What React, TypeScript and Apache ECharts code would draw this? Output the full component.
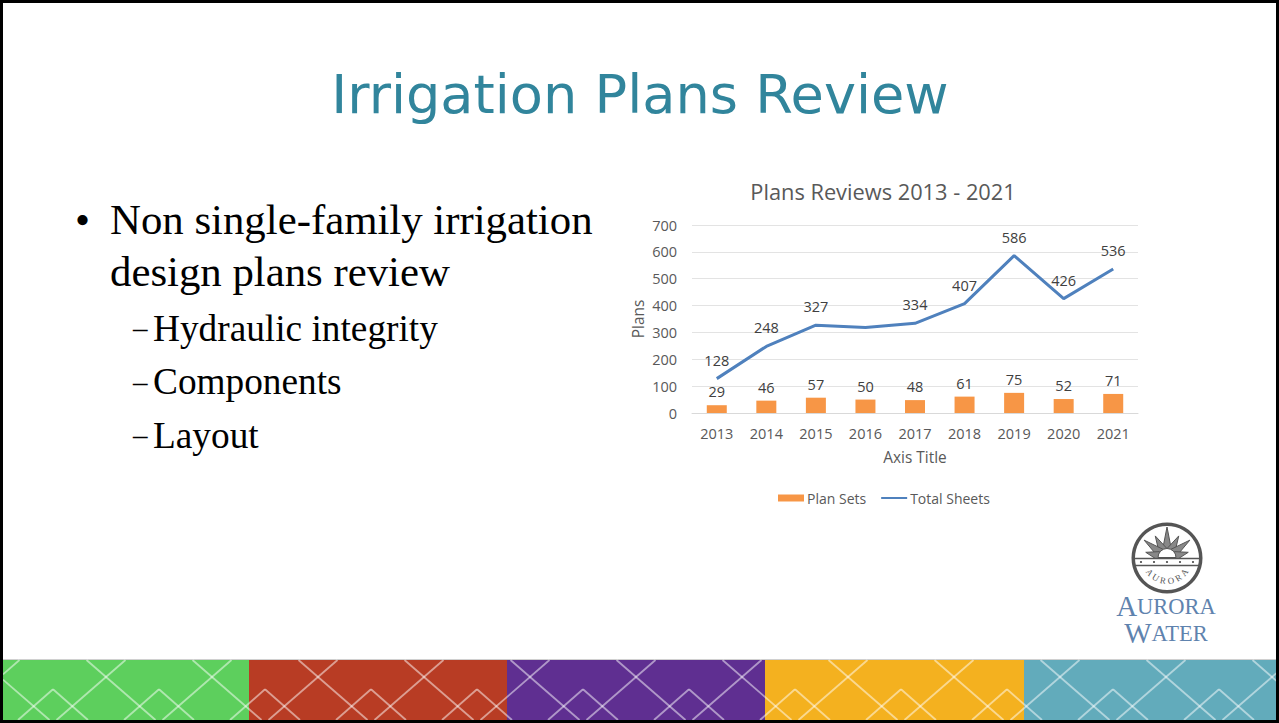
import React, { useEffect, useRef } from "react";
import * as echarts from "echarts";

const categories = ["2013", "2014", "2015", "2016", "2017", "2018", "2019", "2020", "2021"];
const planSets = [29, 46, 57, 50, 48, 61, 75, 52, 71];
const totalSheets = [128, 248, 327, 318, 334, 407, 586, 426, 536];
const unlabeledYears = ["2016"];
const bullets = ["Non single-family irrigation", "design plans review"];
const subBullets = ["Hydraulic integrity", "Components", "Layout"];
const bandColors = ["#5DCF5D", "#B83C24", "#5F2F91", "#F4B11F", "#62ABBB"];
const bandEdges = [3, 249, 507, 765, 1024, 1279];

const TEXT = "#595959";
const FONT = "'Open Sans', sans-serif";
const SERIF = "'Liberation Serif', serif";

function bandGraphics(): any[] {
  const out: any[] = [];
  bandColors.forEach((fill, i) => {
    out.push({ type: "rect", shape: { x: bandEdges[i], y: 660, width: bandEdges[i + 1] - bandEdges[i], height: 60 }, style: { fill } });
  });
  out.push({ type: "line", shape: { x1: 3, y1: 659.5, x2: 1277, y2: 659.5 }, style: { stroke: "#D0D0D0", lineWidth: 1 } });
  const style = { stroke: "rgba(255,255,255,0.5)", lineWidth: 1.8, fill: "none" };
  const clipX = (x1: number, y1: number, x2: number, y2: number) => {
    const lo = 3, hi = 1277;
    if (Math.max(x1, x2) < lo || Math.min(x1, x2) > hi) return;
    const k = (y2 - y1) / (x2 - x1);
    const a = { x1, y1, x2, y2 };
    if (a.x1 < lo) { a.y1 += (lo - a.x1) * k; a.x1 = lo; }
    if (a.x2 < lo) { a.y2 += (lo - a.x2) * k; a.x2 = lo; }
    if (a.x1 > hi) { a.y1 += (hi - a.x1) * k; a.x1 = hi; }
    if (a.x2 > hi) { a.y2 += (hi - a.x2) * k; a.x2 = hi; }
    out.push({ type: "line", shape: a, style });
  };
  for (let c = -106; c <= 1378; c += 106) {
    clipX(c - 19.5, 660, c + 49.5, 720);
    clipX(c + 19.5, 660, c - 49.5, 720);
    clipX(c + 53, 689.3, c + 18, 720);
    clipX(c + 53, 689.3, c + 88, 720);
  }
  return out;
}

function logoGraphics(): any[] {
  const out: any[] = [];
  const cx = 1167, cy = 558;
  const dark = "#555";
  const rays = [-90, -62, -118, -38, -142, -15, -165];
  const lens = [31, 25, 25, 29, 29, 22, 22];
  rays.forEach((deg, i) => {
    const a = (deg * Math.PI) / 180;
    const tip = [cx + lens[i] * Math.cos(a), cy + lens[i] * Math.sin(a)];
    const p = a + Math.PI / 2;
    const base = [cx + 8 * Math.cos(a), cy + 8 * Math.sin(a)];
    out.push({
      type: "polygon",
      shape: { points: [[base[0] + 4.5 * Math.cos(p), base[1] + 4.5 * Math.sin(p)], tip, [base[0] - 4.5 * Math.cos(p), base[1] - 4.5 * Math.sin(p)]] },
      style: { fill: "#888", stroke: dark, lineWidth: 1 },
    });
  });
  out.push({ type: "sector", shape: { cx, cy: cy - 0.5, r0: 0, r: 9, startAngle: Math.PI, endAngle: 2 * Math.PI }, style: { fill: "#fff", stroke: dark, lineWidth: 1 } });
  out.push({ type: "rect", shape: { x: cx - 33, y: cy + 1, width: 66, height: 6 }, style: { fill: "#fff" } });
  out.push({ type: "line", shape: { x1: cx - 34, y1: cy + 0.5, x2: cx + 34, y2: cy + 0.5 }, style: { stroke: dark, lineWidth: 1.6 } });
  out.push({ type: "line", shape: { x1: cx - 33, y1: cy + 7.5, x2: cx + 33, y2: cy + 7.5 }, style: { stroke: dark, lineWidth: 1.6 } });
  for (let i = -2; i <= 2; i++) {
    out.push({ type: "circle", shape: { cx: cx + i * 13, cy: cy + 4, r: 1.1 }, style: { fill: dark } });
  }
  out.push({ type: "ring", shape: { cx, cy, r: 35.5, r0: 32 }, style: { fill: dark } });
  const letters = "AURORA".split("");
  letters.forEach((ch, i) => {
    const deg = 90 + (2.5 - i) * 21;
    const a = (deg * Math.PI) / 180;
    out.push({
      type: "text",
      x: cx + 22 * Math.cos(a),
      y: cy + 1 + 22 * Math.sin(a),
      rotation: (deg - 90) * -Math.PI / 180,
      style: { text: ch, fill: dark, font: `9px ${SERIF}`, textAlign: "center", textVerticalAlign: "middle" },
    });
  });
  const blue = "#5F83AE";
  const word = (big: string, rest: string, y: number) => ({
    type: "text",
    x: 1166,
    y,
    style: {
      text: `{a|${big}}{b|${rest}}`,
      fill: blue,
      textAlign: "center",
      textVerticalAlign: "middle",
      rich: {
        a: { font: `29px ${SERIF}`, fill: blue },
        b: { font: `22.5px ${SERIF}`, fill: blue },
      },
    },
  });
  out.push(word("A", "URORA", 606), word("W", "ATER", 633));
  return out;
}

function slideGraphics(): any[] {
  const out: any[] = [];
  out.push({
    type: "text", x: 640, y: 94,
    style: { text: "Irrigation Plans Review", fill: "#31859C", font: "54.2px 'DejaVu Sans', sans-serif", textAlign: "center", textVerticalAlign: "middle" },
  });
  const body = (text: string, x: number, y: number, size: number) => ({
    type: "text", x, y,
    style: { text, fill: "#000", font: `${size}px ${SERIF}`, textAlign: "left", textVerticalAlign: "middle" },
  });
  out.push(body("•", 75, 219, 42.8));
  bullets.forEach((t, i) => out.push(body(t, 110, 219 + i * 52, 42.8)));
  subBullets.forEach((t, i) => {
    out.push(body("–", 133, 328 + i * 53.5, 29));
    out.push(body(t, 153, 328 + i * 53.5, 37.3));
  });
  out.push(...bandGraphics());
  out.push(...logoGraphics());
  out.push({ type: "rect", shape: { x: 1.5, y: 1.5, width: 1276, height: 720 }, style: { fill: "none", stroke: "#000", lineWidth: 3 }, z: 100 });
  return out;
}

export default function App() {
  const ref = useRef<HTMLDivElement>(null);
  useEffect(() => {
    const chart = echarts.init(ref.current!, undefined, { renderer: "svg" });
    chart.setOption({
      animation: false,
      backgroundColor: "#fff",
      textStyle: { fontFamily: FONT },
      title: {
        text: "Plans Reviews 2013 - 2021",
        left: 878, top: 175, textAlign: "center",
        textStyle: { color: TEXT, fontSize: 21.8, fontWeight: "normal", fontFamily: FONT },
      },
      grid: { left: 692, top: 225, width: 446, height: 188, containLabel: false },
      legend: {
        left: 778, top: 491, itemWidth: 26, itemHeight: 7, itemGap: 14, padding: 0,
        textStyle: { color: TEXT, fontSize: 14, fontFamily: FONT, padding: [0, 0, 0, -2] },
        data: [
          { name: "Plan Sets", icon: "rect" },
          { name: "Total Sheets", itemStyle: { opacity: 0 } },
        ],
      },
      xAxis: {
        type: "category", data: categories,
        name: "Axis Title", nameLocation: "middle", nameGap: 37,
        nameTextStyle: { color: TEXT, fontSize: 15.4, fontFamily: FONT },
        axisLine: { lineStyle: { color: "#D9D9D9", width: 1 } },
        axisTick: { show: false },
        axisLabel: { color: TEXT, fontSize: 14.5, margin: 13, fontFamily: FONT },
      },
      yAxis: {
        type: "value", min: 0, max: 700, interval: 100,
        name: "Plans", nameLocation: "middle", nameGap: 46,
        nameTextStyle: { color: TEXT, fontSize: 15.4, fontFamily: FONT },
        axisLine: { show: false }, axisTick: { show: false },
        axisLabel: { color: TEXT, fontSize: 14.5, margin: 15, fontFamily: FONT },
        splitLine: { lineStyle: { color: "#E3E3E3", width: 1 } },
      },
      series: [
        {
          name: "Plan Sets", type: "bar", data: planSets, barWidth: 20,
          itemStyle: { color: "#F79646" },
          label: { show: true, position: "top", distance: 6, color: "#404040", fontSize: 14.5, fontFamily: FONT },
        },
        {
          name: "Total Sheets", type: "line", data: totalSheets,
          symbol: "circle", symbolSize: 0, showSymbol: true,
          lineStyle: { color: "#4F81BD", width: 3 },
          itemStyle: { color: "#4F81BD" },
          label: {
            show: true, position: "top", distance: 11, color: "#404040", fontSize: 14.5, fontFamily: FONT,
            formatter: (p: any) => (unlabeledYears.includes(p.name) ? "" : String(p.value)),
          },
        },
      ],
      graphic: { elements: slideGraphics() },
    });
    return () => chart.dispose();
  }, []);
  return <div ref={ref} style={{ position: "absolute", left: 0, top: 0, width: 1279, height: 723 }} />;
}
